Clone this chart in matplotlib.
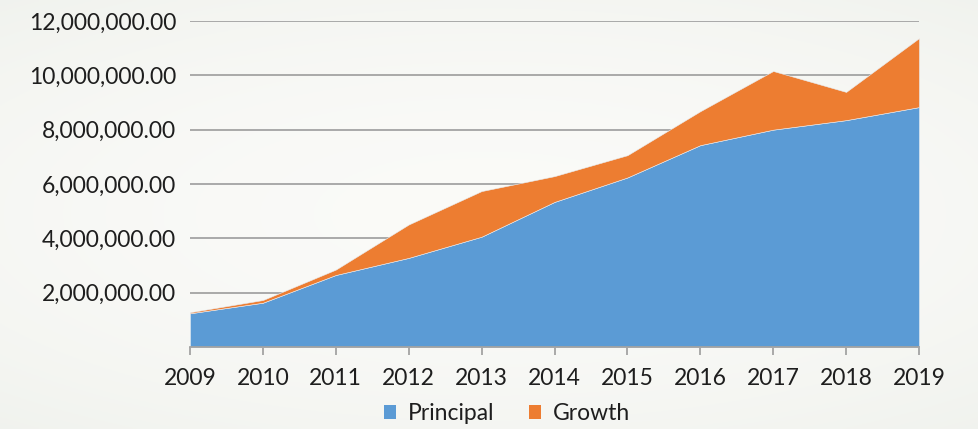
import numpy as np, matplotlib
matplotlib.use("Agg")
import matplotlib.pyplot as plt
from matplotlib.patches import Patch
from matplotlib.ticker import FuncFormatter

BLUE="#5b9bd5"; ORANGE="#ed7d31"; GRID="#a3a3a3"; INK="#1e1e1e"
plt.rcParams.update({"font.family":["Lato","DejaVu Sans"],"font.size":16.5,"text.color":INK,
    "xtick.color":INK,"ytick.color":INK})

years=list(range(2009,2020))
principal=[1.24,1.63,2.65,3.28,4.06,5.34,6.24,7.43,8.00,8.35,8.83]   # millions
total=[1.28,1.73,2.85,4.51,5.74,6.29,7.06,8.68,10.16,9.39,11.37]
growth=[t-p for t,p in zip(total,principal)]
principal=np.array(principal)*1e6; growth=np.array(growth)*1e6

fig=plt.figure(figsize=(9.79,4.29),dpi=100)
# soft background gradient
bg=fig.add_axes([0,0,1,1],zorder=-10); bg.axis("off")
yy,xx=np.mgrid[-1:1:200j,-1:1:400j]
r=np.clip(np.sqrt((xx*0.9)**2+(yy*1.1)**2),0,1.4)
c0=np.array([0.982,0.982,0.972]); c1=np.array([0.945,0.952,0.935])
img=c0+(c1-c0)*(r[...,None]/1.4)**2
bg.imshow(img,aspect="auto",extent=[0,1,0,1])

ax=fig.add_axes([190/979,82/429,(919-190)/979,(347-21)/429])
ax.set_facecolor("none")
ax.stackplot(years,principal,growth,colors=[BLUE,ORANGE],edgecolor="#e8eef4",lw=0.4,zorder=3)
ax.set_xlim(2009,2019); ax.set_ylim(0,12e6)
ax.set_yticks(np.arange(2e6,12.1e6,2e6))
ax.yaxis.set_major_formatter(FuncFormatter(lambda v,p:f"{v:,.2f}"))
ax.grid(axis="y",color=GRID,lw=1.3,zorder=1); ax.set_axisbelow(True)
ax.tick_params(axis="y",length=0,pad=10)
ax.set_xticks(years)
ax.tick_params(axis="x",length=6,width=1.3,color=GRID,pad=9,direction="out")
for s in ("top","right","left"): ax.spines[s].set_visible(False)
ax.spines["bottom"].set_color(GRID); ax.spines["bottom"].set_linewidth(1.3)
ax.spines["bottom"].set_zorder(4)

leg=[Patch(facecolor=BLUE,label="Principal"),Patch(facecolor=ORANGE,label="Growth")]
fig.legend(handles=leg,loc="center",bbox_to_anchor=(507/979,1-414/429),ncol=2,frameon=False,
           handlelength=0.55,handleheight=0.55,handletextpad=0.5,columnspacing=1.5,fontsize=16.5)
fig.savefig("out.png",dpi=100)
